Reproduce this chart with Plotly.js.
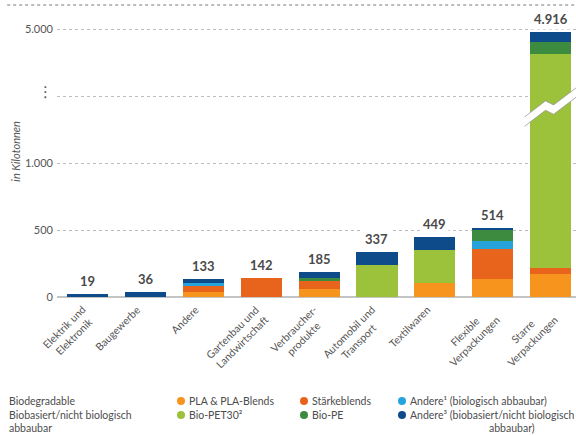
<!DOCTYPE html>
<html>
<head>
<meta charset="utf-8">
<script src="https://cdn.plot.ly/plotly-3.0.1.min.js"></script>
<style>
  html, body { margin: 0; padding: 0; background: #ffffff; }
  #chart { width: 576px; height: 436px; }
</style>
</head>
<body>
<div id="chart"></div>
<script>
// ---------- data (kilotonnes) ----------
const categories = [
  'Elektrik und<br>Elektronik',
  'Baugewerbe',
  'Andere',
  'Gartenbau und<br>Landwirtschaft',
  'Verbraucher-<br>produkte',
  'Automobil und<br>Transport',
  'Textilwaren',
  'Flexible<br>Verpackungen',
  'Starre<br>Verpackungen'
];
const plaBlends   = [0, 0, 40,   0, 60,   0, 104, 135,  170];
const staerke     = [0, 0, 45, 142, 60,   0,   0, 220,   50];
const andereBio   = [0, 0, 23,   0,  0,   0,   0,  62,    0];
const bioPet30    = [0, 0,  0,   0,  0, 242, 250,   0, 4534];
const bioPe       = [0, 0,  0,   0, 25,   0,   0,  80,   92];
const andereBased = [19, 36, 25, 0, 40,  95,  95,  17,   70];
const totals      = [19, 36, 133, 142, 185, 337, 449, 514, 4916];
const totalLabels = ['19', '36', '133', '142', '185', '337', '449', '514', '4.916'];
const yTickLabels = ['0', '500', '1.000', '⋮', '5.000'];

const seriesNames = [
  'PLA & PLA-Blends', 'Stärkeblends', 'Andere¹ (biologisch abbaubar)',
  'Bio-PET30²', 'Bio-PE', 'Andere³ (biobasiert/nicht biologisch abbaubar)'
];
const groupNames = ['Biodegradable', 'Biobasiert/nicht biologisch', 'abbaubar'];

// ---------- style ----------
const colors = ['#F7941D', '#E8631C', '#27A3DC', '#9CC13B', '#3C8B3F', '#0E4B8A'];
const FONT = 'Lato, "Open Sans", sans-serif';
const TEXT = '#555555';
const BREAK_LIMIT = 2000;   // bars above this are drawn with an axis break
const BREAK_OFFSET = 2940;  // amount removed from the largest segment of such a bar

const allSeries = [plaBlends, staerke, andereBio, bioPet30, bioPe, andereBased];

const displaySeries = allSeries.map(s => s.slice());
totals.forEach((t, i) => {
  if (t > BREAK_LIMIT) {
    let maxK = 0;
    allSeries.forEach((s, k) => { if (s[i] > allSeries[maxK][i]) maxK = k; });
    displaySeries[maxK][i] = allSeries[maxK][i] - BREAK_OFFSET;
  }
});
const displayTotals = totals.map((t, i) => displaySeries.reduce((a, s) => a + s[i], 0));

const xIdx = categories.map((c, i) => i);

const traces = displaySeries.map((s, k) => ({
  type: 'bar',
  x: xIdx,
  y: s,
  name: seriesNames[k],
  customdata: allSeries[k],
  hovertemplate: '%{customdata}<extra>' + seriesNames[k] + '</extra>',
  marker: { color: colors[k], line: { width: 0 } },
  width: 0.71,
  showlegend: false
}));

const annotations = [];
const shapes = [];
// value labels
totals.forEach((t, i) => {
  annotations.push({
    x: i, y: displayTotals[i], xref: 'x', yref: 'y',
    text: '<b>' + totalLabels[i] + '</b>',
    showarrow: false, yanchor: 'bottom', yshift: 2,
    bgcolor: '#ffffff', borderpad: 2,
    font: { family: FONT, size: 13, color: '#4a4a4a' }
  });
});

// category labels: rotated -45°, lines centred on each other
const canvas = document.createElement('canvas');
const ctx = canvas.getContext('2d');
const CAT_SIZE = 10.5;
ctx.font = CAT_SIZE + 'px Lato';
categories.forEach((c, i) => {
  const lines = c.split('<br>');
  const w = Math.max.apply(null, lines.map(l => ctx.measureText(l).width));
  const d = w * 0.3536;
  const dx = lines.length > 1 ? 1 : -7;
  const yEnd = lines.length > 1 ? 313 : 308;
  annotations.push({
    x: i, y: 0, xref: 'x', yref: 'paper',
    text: c, textangle: -45, align: 'center',
    xanchor: 'center', yanchor: 'middle', showarrow: false,
    xshift: dx - d, yshift: -(yEnd - 297) - d,
    font: { family: FONT, size: CAT_SIZE, color: TEXT }
  });
});

// y axis title
annotations.push({
  x: -0.098, y: 0.5, xref: 'paper', yref: 'paper',
  text: '<i>in Kilotonnen</i>', textangle: -90, showarrow: false,
  font: { family: FONT, size: 11, color: TEXT }
});
// axis-break marker on the y axis
annotations.push({
  x: -0.023, y: 1500, xref: 'paper', yref: 'y',
  text: yTickLabels[3], showarrow: false, xanchor: 'center', yanchor: 'middle', yshift: 4,
  font: { family: 'DejaVu Sans', size: 15, color: '#555555' }
});

// legend (custom, two groups)
function py(p) { return (297 - p) / 292; }
function px(p) { return (p - 57) / 519; }
const LEG_SIZE = 10.5;
const LEG_COLOR = '#4d4d4d';
ctx.font = LEG_SIZE + 'px Lato';
const rowY = [401, 415, 428];
const colX = [177, 300, 398];
function legText(xp, yp, t) {
  annotations.push({
    x: px(xp), y: py(yp), xref: 'paper', yref: 'paper',
    xanchor: 'left', yanchor: 'middle', showarrow: false, text: t,
    font: { family: FONT, size: LEG_SIZE, color: LEG_COLOR }
  });
}
groupNames.forEach((g, r) => legText(7, rowY[r], g));
const items = [
  { r: 0, c: 0, k: 0, t: seriesNames[0] },
  { r: 0, c: 1, k: 1, t: seriesNames[1] },
  { r: 0, c: 2, k: 2, t: seriesNames[2] },
  { r: 1, c: 0, k: 3, t: seriesNames[3] },
  { r: 1, c: 1, k: 4, t: seriesNames[4] },
  { r: 1, c: 2, k: 5, t: 'Andere³ (biobasiert/nicht biologisch' }
];
items.forEach(it => {
  const cx = colX[it.c] + 4, cy = rowY[it.r];
  shapes.push({
    type: 'circle', xref: 'paper', yref: 'paper',
    xsizemode: 'pixel', ysizemode: 'pixel',
    xanchor: px(cx), yanchor: py(cy),
    x0: -4, x1: 4, y0: -4, y1: 4,
    fillcolor: colors[it.k], line: { width: 0 }
  });
  legText(colX[it.c] + 10, rowY[it.r], it.t);
});
// continuation line centred under the bracketed part
{
  const start = colX[2] + 10 + ctx.measureText('Andere³ ').width;
  const wPart = ctx.measureText('(biobasiert/nicht biologisch').width;
  const wCont = ctx.measureText('abbaubar)').width;
  legText(start + (wPart - wCont) / 2, rowY[2], 'abbaubar)');
}

// axis-break decoration on the broken bar
totals.forEach((t, i) => {
  if (t > BREAK_LIMIT) {
    const up = [[i - 0.45, 1344], [i - 0.087, 1464], [i + 0.053, 1434], [i + 0.44, 1561]];
    const lo = up.map(p => [p[0], p[1] - 70]);
    const poly = 'M ' + up.map(p => p.join(',')).join(' L ') + ' L ' +
      lo.slice().reverse().map(p => p.join(',')).join(' L ') + ' Z';
    shapes.push({ type: 'path', xref: 'x', yref: 'y', path: poly,
      fillcolor: '#ffffff', line: { width: 0 }, layer: 'above' });
    shapes.push({ type: 'path', xref: 'x', yref: 'y',
      path: 'M ' + up.map(p => p.join(',')).join(' L '),
      line: { color: '#9a9a9a', width: 0.8 }, layer: 'above' });
    shapes.push({ type: 'path', xref: 'x', yref: 'y',
      path: 'M ' + lo.map(p => p.join(',')).join(' L '),
      line: { color: '#9a9a9a', width: 0.8 }, layer: 'above' });
  }
});
// top dotted rule
shapes.push({ type: 'line', xref: 'paper', yref: 'paper', x0: -0.096, x1: 1, y0: 1, y1: 1,
  line: { color: '#7a7a7a', width: 1, dash: 'dot' } });

const layout = {
  width: 576, height: 436,
  margin: { l: 57, r: 0, t: 5, b: 139, pad: 0 },
  paper_bgcolor: '#ffffff', plot_bgcolor: '#ffffff',
  barmode: 'stack',
  font: { family: FONT, size: 11, color: TEXT },
  xaxis: {
    range: [-0.53, 8.44],
    tickvals: xIdx, showticklabels: false,
    showgrid: false, zeroline: false, showline: false, ticks: ''
  },
  yaxis: {
    range: [0, 2180],
    tickvals: [0, 500, 1000, 1500, 2000],
    ticktext: yTickLabels.map(l => l === '⋮' ? '' : l),
    tickfont: { family: FONT, size: 11, color: TEXT },
    showgrid: true, gridcolor: '#bdbdbd', gridwidth: 1, griddash: 'dot',
    zeroline: true, zerolinecolor: '#c4c4c4', zerolinewidth: 1.2,
    showline: false, ticks: '', ticklabelstandoff: 3
  },
  annotations: annotations,
  shapes: shapes
};

Plotly.newPlot('chart', traces, layout, { displayModeBar: false, staticPlot: true });
</script>
</body>
</html>
